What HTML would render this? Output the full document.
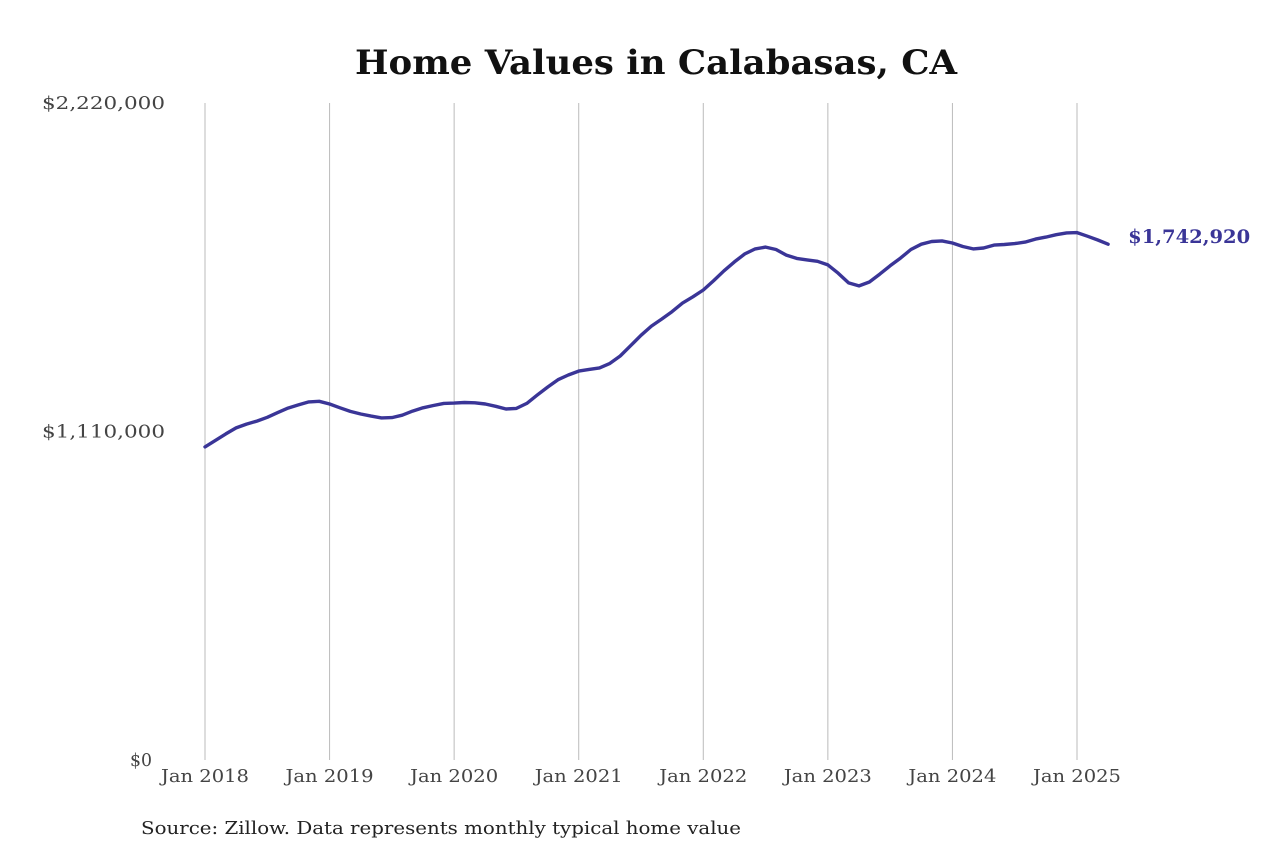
<!DOCTYPE html>
<html><head><meta charset="utf-8"><style>
body{margin:0;background:#fff}
svg{display:block}
text{font-family:"DejaVu Serif","Liberation Serif",serif}
</style></head><body>
<svg id="chart" width="1280" height="853" viewBox="0 0 1280 853">
<text x="656" y="74" text-anchor="middle" font-size="34" font-weight="bold" fill="#111" textLength="602" lengthAdjust="spacingAndGlyphs">Home Values in Calabasas, CA</text>
<g id="grid"></g><g id="yaxis"></g><g id="xaxis"></g><g id="series"></g>
<text x="141" y="834" font-size="18" fill="#222" textLength="600" lengthAdjust="spacingAndGlyphs">Source: Zillow. Data represents monthly typical home value</text>
</svg>
<script>
const yearLabels=["Jan 2018","Jan 2019","Jan 2020","Jan 2021","Jan 2022","Jan 2023","Jan 2024","Jan 2025"];
const yTicks=[0,1110000,2220000];
const yTickLabels=["$0","$1,110,000","$2,220,000"];
const values=[1058,1080,1102,1122,1135,1145,1158,1174,1189,1200,1210,1212,
1203,1190,1178,1169,1162,1156,1157,1165,1179,1190,1198,1205,
1206,1208,1207,1203,1195,1186,1188,1205,1233,1260,1285,1301,
1314,1320,1325,1340,1365,1400,1435,1466,1490,1515,1544,1565,
1588,1620,1653,1683,1710,1727,1733,1725,1706,1695,1690,1685,
1673,1645,1612,1602,1615,1642,1670,1696,1725,1743,1752,1754,
1747,1735,1727,1730,1740,1742,1745,1750,1760,1767,1775,1781,
1782,1770,1757,1742.92];
const lastLabel="$1,742,920";
const NS="http://www.w3.org/2000/svg";
const x=m=>205+m*(1077-205)/84;
const y=v=>760-v/2220000*657;
function mk(t,a,p){const e=document.createElementNS(NS,t);for(const k in a)e.setAttribute(k,a[k]);p.appendChild(e);return e;}
const grid=document.getElementById('grid'),xa=document.getElementById('xaxis'),ya=document.getElementById('yaxis'),se=document.getElementById('series');
yearLabels.forEach((l,i)=>{
 const g=mk('line',{x1:x(i*12),x2:x(i*12),y1:103,y2:760,stroke:'#bbb','stroke-width':1},grid);
 
 
 const t=mk('text',{x:x(i*12),y:782,'text-anchor':'middle','font-size':18,fill:'#444',textLength:88,lengthAdjust:'spacingAndGlyphs'},xa);
 t.textContent=l;
 
 
});
yTicks.forEach((v,i)=>{
 const w=v===0?22:123;
 const t=mk('text',{x:v===0?152:165,y:y(v)+6,'text-anchor':'end','font-size':18,fill:'#444',textLength:w,lengthAdjust:'spacingAndGlyphs'},ya);
 t.textContent=yTickLabels[i];
 
 
});
const d=values.map((v,i)=>(i?'L':'M')+x(i).toFixed(1)+' '+y(v*1000).toFixed(1)).join(' ');
const p=mk('path',{d:d,fill:'none',stroke:'#3a3597','stroke-width':3.4,'stroke-linejoin':'round','stroke-linecap':'round'},se);


const li=values.length-1;
const lt=mk('text',{x:x(li)+20,y:y(values[li]*1000)-1,'font-size':19,'font-weight':'bold',fill:'#3a3597',textLength:122,lengthAdjust:'spacingAndGlyphs'},se);
lt.textContent=lastLabel;


</script>
</body></html>
